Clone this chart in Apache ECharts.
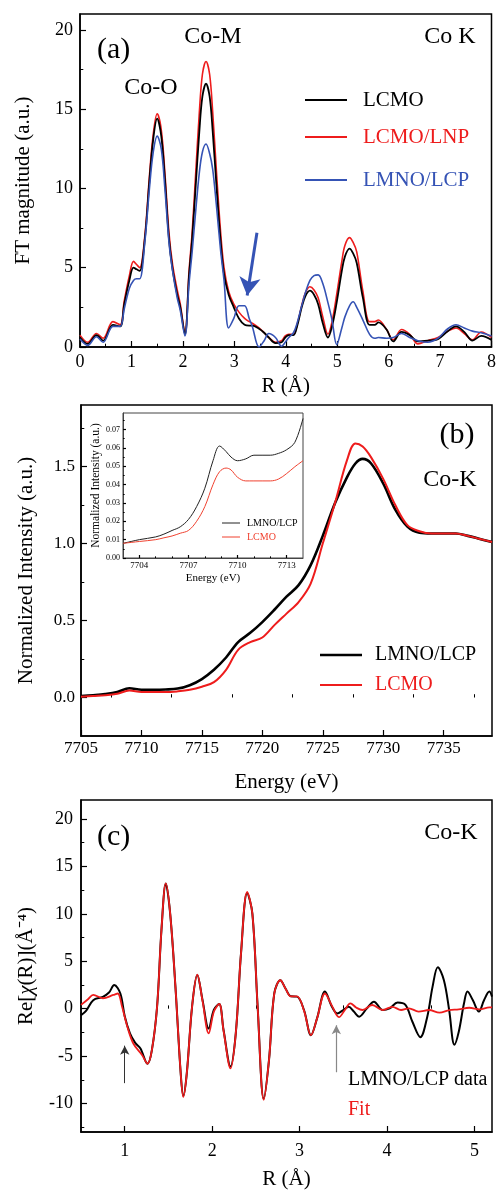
<!DOCTYPE html>
<html>
<head>
<meta charset="utf-8">
<script src="https://cdn.jsdelivr.net/npm/echarts@6/dist/echarts.min.js"></script>
<style>
  html, body { margin: 0; padding: 0; background: #fff; }
  #chart { width: 499px; height: 1191px; }
</style>
</head>
<body>
<div id="chart"></div>
<script>
// ---- (a) FT magnitude, Co K edge ----
var ftR = [0, 0.15, 0.32, 0.45, 0.64, 0.78, 0.86, 0.96, 1.04, 1.1,
  1.16, 1.26, 1.35, 1.42, 1.5, 1.58, 1.65, 1.73, 1.8, 1.89,
  1.95, 2.04, 2.12, 2.18, 2.25, 2.32, 2.38, 2.45, 2.52, 2.58,
  2.65, 2.73, 2.8, 2.89, 2.99, 3.09, 3.2, 3.29, 3.35, 3.48,
  3.58, 3.67, 3.8, 3.92, 3.99, 4.06, 4.15, 4.22, 4.31, 4.38,
  4.47, 4.55, 4.63, 4.72, 4.82, 4.9, 4.99, 5.09, 5.15, 5.24,
  5.31, 5.38, 5.5, 5.63, 5.73, 5.8, 5.96, 6.09, 6.25, 6.41,
  6.57, 6.76, 6.96, 7.15, 7.31, 7.47, 7.63, 7.8, 8.0];
var ftLCMO = [0.6, 0.2, 0.75, 0.4, 1.4, 1.3, 2.7, 4.2, 5.0, 4.9,
  4.8, 6.8, 10.5, 13.0, 14.4, 13.3, 10.6, 6.8, 4.9, 3.3,
  2.5, 0.8, 4.5, 6.8, 10.2, 13.6, 15.8, 16.6, 15.8, 13.6,
  10.3, 6.8, 4.6, 3.3, 2.5, 1.8, 1.4, 1.35, 1.35, 1.15,
  0.9, 0.6, 0.25, 0.3, 0.6, 0.75, 0.75, 1.3, 2.5, 3.2,
  3.55, 3.3, 2.7, 1.5, 0.6, 1.3, 2.8, 4.8, 5.7, 6.2,
  5.9, 5.3, 3.1, 1.4, 1.4, 1.55, 1.1, 0.35, 0.95, 0.75,
  0.35, 0.4, 0.5, 1.0, 1.3, 0.95, 0.4, 0.7, 0.45];
var ftLCMOLNP = [0.75, 0.3, 0.85, 0.55, 1.6, 1.4, 2.9, 4.5, 5.4, 5.2,
  5.0, 7.0, 10.8, 13.3, 14.7, 13.7, 11.0, 7.2, 5.2, 3.6,
  2.7, 0.85, 4.8, 7.2, 11.0, 14.8, 17.2, 18.0, 17.2, 14.8,
  11.2, 7.4, 5.0, 3.5, 2.7, 2.2, 1.8, 1.6, 1.5, 1.2,
  0.9, 0.6, 0.3, 0.4, 0.7, 0.8, 0.8, 1.4, 2.6, 3.4,
  3.8, 3.6, 3.1, 1.9, 0.8, 1.6, 3.3, 5.4, 6.4, 6.9,
  6.6, 6.0, 3.5, 1.6, 1.6, 1.7, 1.1, 0.45, 1.1, 0.8,
  0.2, 0.4, 0.6, 1.0, 1.2, 0.85, 0.45, 0.95, 0.6];
var ftLMNO = [0.5, 0.1, 0.65, 0.3, 1.3, 1.3, 2.4, 3.7, 4.2, 4.3,
  4.3, 6.6, 10.0, 12.2, 13.3, 12.5, 10.0, 6.6, 4.8, 3.1,
  2.3, 0.7, 4.0, 6.0, 8.6, 11.0, 12.3, 12.8, 12.2, 11.2,
  9.0, 6.2, 4.2, 1.2, 1.8, 2.6, 2.6, 1.8, 1.3, 0.0,
  0.4, 0.85, 0.6, 0.05, 0.3, 0.6, 0.9, 1.5, 2.6, 3.4,
  4.2, 4.5, 4.55, 4.0, 2.8, 1.7, 0.15, 1.2, 1.9, 2.6,
  2.85, 2.5, 1.7, 0.8, 0.55, 0.6, 0.55, 0.6, 0.85, 0.6,
  0.4, 0.3, 0.55, 1.15, 1.4, 1.2, 1.0, 0.9, 0.7];
var ftXTicks = [0, 1, 2, 3, 4, 5, 6, 7, 8];
var ftXMinor = [0.5, 1.5, 2.5, 3.5, 4.5, 5.5, 6.5, 7.5];
var ftYTicks = [0, 5, 10, 15, 20];
var ftYMinor = [2.5, 7.5, 12.5, 17.5];
var ftArrow = [[3.44, 7.2], [3.25, 3.25]];

// ---- (b) XANES ----
var xeE = [7705, 7706, 7707, 7708, 7709, 7710, 7711, 7712, 7713, 7714,
  7715, 7716, 7717, 7718, 7719, 7720, 7721, 7722, 7723, 7724,
  7725, 7726, 7727, 7727.7, 7728.3, 7729, 7730, 7731, 7732, 7733,
  7734, 7735, 7736, 7737, 7738, 7739];
var xeLMNO = [0.01, 0.015, 0.022, 0.035, 0.06, 0.05, 0.05, 0.052, 0.058, 0.08,
  0.12, 0.18, 0.26, 0.36, 0.42, 0.49, 0.57, 0.655, 0.73, 0.86,
  1.05, 1.26, 1.43, 1.52, 1.55, 1.52, 1.39, 1.22, 1.11, 1.07,
  1.065, 1.065, 1.065, 1.05, 1.03, 1.01];
var xeLCMO = [0.005, 0.01, 0.015, 0.025, 0.045, 0.035, 0.035, 0.035, 0.04, 0.05,
  0.07, 0.10, 0.18, 0.31, 0.36, 0.39, 0.47, 0.545, 0.62, 0.74,
  1.0, 1.26, 1.54, 1.65, 1.63, 1.56, 1.42, 1.25, 1.12, 1.08,
  1.065, 1.065, 1.065, 1.05, 1.03, 1.01];
var xeXTicks = [7705, 7710, 7715, 7720, 7725, 7730, 7735];
var xeXMinor = [7707.5, 7712.5, 7717.5, 7722.5, 7727.5, 7732.5, 7737.5];
var xeYTicks = [0, 0.5, 1.0, 1.5];
var xeYMinor = [0.25, 0.75, 1.25, 1.75];

// ---- (b) inset: pre-edge ----
var inE = [7703, 7703.5, 7704, 7705, 7705.5, 7706, 7706.5, 7707, 7707.5, 7708,
  7708.5, 7708.9, 7709.3, 7709.6, 7710, 7710.5, 7711, 7712, 7712.5, 7713,
  7713.5, 7714];
var inLMNO = [0.008, 0.009, 0.010, 0.0115, 0.013, 0.015, 0.017, 0.021, 0.028, 0.038,
  0.053, 0.061, 0.058, 0.055, 0.053, 0.054, 0.056, 0.056, 0.057, 0.059,
  0.063, 0.076];
var inLCMO = [0.008, 0.0085, 0.009, 0.010, 0.011, 0.012, 0.0135, 0.015, 0.02, 0.028,
  0.04, 0.047, 0.049, 0.048, 0.044, 0.042, 0.042, 0.042, 0.043, 0.046,
  0.0497, 0.053];
var inXTicks = [7704, 7707, 7710, 7713];
var inXMinor = [7705, 7706, 7708, 7709, 7711, 7712];
var inYTicks = [0, 0.01, 0.02, 0.03, 0.04, 0.05, 0.06, 0.07];
var inYMinor = [0.005, 0.015, 0.025, 0.035, 0.045, 0.055, 0.065, 0.075];

// ---- (c) Re[chi(R)] data and fit ----
var reRData = [0.5, 0.56, 0.64, 0.75, 0.82, 0.88, 0.95, 1.0, 1.06, 1.12,
  1.18, 1.26, 1.31, 1.37, 1.42, 1.47, 1.52, 1.58, 1.64, 1.67,
  1.71, 1.77, 1.83, 1.89, 1.96, 2.02, 2.08, 2.13, 2.21, 2.27,
  2.33, 2.4, 2.46, 2.52, 2.59, 2.65, 2.71, 2.78, 2.84, 2.9,
  2.97, 3.05, 3.13, 3.2, 3.29, 3.37, 3.43, 3.5, 3.56, 3.62,
  3.68, 3.77, 3.85, 3.95, 4.03, 4.12, 4.21, 4.29, 4.38, 4.46,
  4.52, 4.58, 4.65, 4.71, 4.77, 4.82, 4.88, 4.92, 4.98, 5.05,
  5.11, 5.17, 5.2];
var reData = [-0.7, -0.2, 0.9, 1.25, 1.7, 2.5, 1.6, -0.8, -2.6, -3.6,
  -4.2, -5.8, -4.4, 0.2, 8.3, 13.2, 10.0, 2.3, -6.8, -9.2,
  -6.8, 0.2, 3.56, 0.9, -2.1, -0.1, 0.5, -2.25, -6.1, -2.6,
  5.85, 12.2, 10.0, 0.2, -9.5, -5.4, 1.6, 3.0, 2.1, 1.3,
  1.27, -0.14, -2.8, -1.0, 1.8, 0.2, -0.5, -0.14, 0.2, -0.3,
  -0.84, 0.04, 0.74, -0.14, 0.04, 0.64, 0.39, -1.38, -3.0, -0.84,
  2.3, 4.37, 3.0, -0.14, -3.8, -2.43, 0.57, 1.8, 0.92, -0.3,
  0.92, 1.8, 1.27];
var reRFit = [0.5, 0.58, 0.64, 0.75, 0.87, 0.92, 0.97, 1.03, 1.1, 1.2,
  1.26, 1.31, 1.37, 1.42, 1.47, 1.52, 1.58, 1.64, 1.67, 1.71,
  1.77, 1.83, 1.89, 1.96, 2.02, 2.08, 2.13, 2.21, 2.27, 2.33,
  2.4, 2.46, 2.52, 2.59, 2.65, 2.71, 2.78, 2.84, 2.9, 2.97,
  3.05, 3.13, 3.2, 3.29, 3.37, 3.45, 3.52, 3.58, 3.65, 3.72,
  3.83, 3.95, 4.06, 4.16, 4.25, 4.36, 4.48, 4.6, 4.71, 4.82,
  4.94, 5.06, 5.17, 5.2];
var reFit = [0.4, 1.0, 1.45, 1.1, 1.45, 1.6, 0.2, -1.9, -3.7, -4.9,
  -5.8, -4.4, 0.2, 8.3, 13.2, 10.0, 2.3, -6.8, -9.3, -6.8,
  0.2, 3.6, 0.8, -2.6, -0.3, 0.5, -2.3, -6.3, -2.6, 5.85,
  12.3, 10.0, 0.2, -9.6, -5.4, 1.6, 3.0, 2.1, 1.3, 1.3,
  -0.2, -2.8, -1.0, 1.6, 0.3, -0.9, -0.1, 0.57, 0.1, -0.14,
  0.39, -0.14, 0.2, -0.14, 0.04, -0.3, -0.14, -0.42, -0.14, -0.07,
  0.1, -0.07, 0.14, 0.14];
var reXTicks = [1, 2, 3, 4, 5];
var reXMinor = [1.5, 2.5, 3.5, 4.5];
var reYTicks = [-10, -5, 0, 5, 10, 15, 20];
var reYMinor = [-12.5, -7.5, -2.5, 2.5, 7.5, 12.5, 17.5];
var reArrow1 = [[1.0, -7.85], [1.0, -3.9]];
var reArrow2 = [[3.42, -6.7], [3.42, -1.75]];

var FONT = '"Liberation Serif", "Times New Roman", serif';
var RED = '#ee1c1c';
var BLUE = '#3553b5';

function pairs(xs, ys) {
    return xs.map(function (x, i) { return [x, ys[i]]; });
}

// main axis (line, major ticks, labels, name) + a bare axis carrying the minor ticks
function axisPair(dim, grid, min, max, majors, minors, o) {
    var pos = dim === 'x' ? 'bottom' : 'left';
    var main = {
        type: 'value', gridIndex: grid, min: min, max: max, position: pos,
        axisLine: { show: true, onZero: false, lineStyle: { color: o.lineColor || '#000', width: o.lineWidth || 1.5 } },
        axisTick: { show: true, inside: true, length: o.tick, customValues: majors, lineStyle: { color: '#000', width: 1.2 } },
        axisLabel: { customValues: majors, fontSize: o.fs, margin: o.margin, color: '#000', fontFamily: FONT, formatter: o.fmt },
        splitLine: { show: false },
        name: o.name, nameLocation: 'middle', nameGap: o.gap,
        nameTextStyle: { fontSize: o.nameFs, color: '#000', fontFamily: FONT, rich: o.rich }
    };
    var minor = {
        type: 'value', gridIndex: grid, min: min, max: max, position: pos,
        axisLine: { show: false },
        axisTick: { show: true, inside: true, length: o.tick * 0.55, customValues: minors, lineStyle: { color: '#000', width: 1 } },
        axisLabel: { show: false },
        splitLine: { show: false }
    };
    return [main, minor];
}

function plain(v) { return String(v); }

var xAxes = [].concat(
    axisPair('x', 0, 0, 8, ftXTicks, ftXMinor, { tick: 6, fs: 18, margin: 6, fmt: plain, name: 'R (Å)', gap: 29, nameFs: 21 }),
    axisPair('x', 1, 7705, 7739, xeXTicks, xeXMinor, { tick: 6, fs: 17, margin: 4, fmt: plain, name: 'Energy (eV)', gap: 36, nameFs: 21 }),
    axisPair('x', 2, 7703, 7714, inXTicks, inXMinor, { tick: 3, fs: 9, margin: 3, fmt: plain, name: 'Energy (eV)', gap: 15, nameFs: 11, lineWidth: 1, lineColor: '#444' }),
    axisPair('x', 3, 0.5, 5.2, reXTicks, reXMinor, { tick: 6, fs: 18, margin: 10, fmt: plain, name: 'R (Å)', gap: 37, nameFs: 21 })
);
var yAxes = [].concat(
    axisPair('y', 0, 0, 21, ftYTicks, ftYMinor, { tick: 6, fs: 18, margin: 7, fmt: plain, name: 'FT magnitude (a.u.)', gap: 46, nameFs: 21 }),
    axisPair('y', 1, -0.25, 1.9, xeYTicks, xeYMinor, { tick: 6, fs: 17, margin: 6, fmt: function (v) { return v.toFixed(1); }, name: 'Normalized Intensity (a.u.)', gap: 44, nameFs: 21 }),
    axisPair('y', 2, 0, 0.079, inYTicks, inYMinor, { tick: 3, fs: 8, margin: 3, fmt: function (v) { return v.toFixed(2); }, name: 'Normalized Intensity (a.u.)', gap: 19, nameFs: 11.5, lineWidth: 1, lineColor: '#444' }),
    axisPair('y', 3, -13, 22, reYTicks, reYMinor, { tick: 6, fs: 18, margin: 8, fmt: plain,
        name: '{a|Re[}{i|χ}{a|(R)](Å⁻⁴)}', gap: 44, nameFs: 21,
        rich: { a: { fontSize: 21, fontFamily: FONT, color: '#000' }, i: { fontSize: 21, fontFamily: FONT, fontStyle: 'italic', color: '#000' } } })
);

function line(name, xi, xs, ys, color, width, z, extra) {
    var s = {
        name: name, type: 'line', xAxisIndex: xi * 2, yAxisIndex: xi * 2,
        data: pairs(xs, ys), showSymbol: false, symbol: 'none', smooth: 0.35,
        lineStyle: { color: color, width: width }, itemStyle: { color: color }, z: z, clip: true
    };
    if (extra) s.markLine = extra;
    return s;
}

function arrow(p, color, width, size) {
    return {
        silent: true, animation: false, label: { show: false },
        symbol: ['none', 'arrow'], symbolSize: size,
        lineStyle: { color: color, width: width, type: 'solid' },
        data: [[{ coord: p[0] }, { coord: p[1] }]]
    };
}

function txt(t, x, y, size, color, align) {
    return { type: 'text', x: x, y: y, z: 10,
        style: { text: t, font: size + 'px ' + FONT, fill: color || '#000', align: align || 'left', verticalAlign: 'middle' } };
}
function seg(x1, x2, y, color, w) {
    return { type: 'line', z: 10, shape: { x1: x1, y1: y, x2: x2, y2: y }, style: { stroke: color, lineWidth: w } };
}

var chart = echarts.init(document.getElementById('chart'));
chart.setOption({
    animation: false,
    backgroundColor: '#fff',
    textStyle: { fontFamily: FONT },
    grid: [
        { left: 80, top: 14, width: 414, height: 333, show: true, borderColor: '#000', borderWidth: 1.5, backgroundColor: 'transparent' },
        { left: 81, top: 405, width: 411, height: 331, show: true, borderColor: '#000', borderWidth: 1.5, backgroundColor: 'transparent' },
        { left: 123, top: 413, width: 180, height: 145, show: true, borderColor: '#444', borderWidth: 1, backgroundColor: '#fff' },
        { left: 81, top: 800, width: 411, height: 332, show: true, borderColor: '#000', borderWidth: 1.5, backgroundColor: 'transparent' }
    ],
    xAxis: xAxes,
    yAxis: yAxes,
    series: [
        line('LCMO/LNP', 0, ftR, ftLCMOLNP, RED, 1.6, 2),
        line('LCMO', 0, ftR, ftLCMO, '#000', 1.8, 3),
        line('LMNO/LCP', 0, ftR, ftLMNO, BLUE, 1.6, 4, arrow(ftArrow, BLUE, 3, [16, 18])),
        line('LMNO/LCP', 1, xeE, xeLMNO, '#000', 2.6, 3),
        line('LCMO', 1, xeE, xeLCMO, RED, 2, 4),
        line('LMNO/LCP', 2, inE, inLMNO, '#222', 1, 5),
        line('LCMO', 2, inE, inLCMO, '#f0412f', 1, 5),
        line('LMNO/LCP data', 3, reRData, reData, '#000', 2, 3, arrow(reArrow1, '#333', 1, [7, 9])),
        line('Fit', 3, reRFit, reFit, RED, 1.8, 4, arrow(reArrow2, '#888', 1.2, [7, 9]))
    ],
    graphic: [
        txt('(a)', 97, 50, 30),
        txt('Co-M', 213, 37, 24, '#000', 'center'),
        txt('Co K', 450, 37, 24, '#000', 'center'),
        txt('Co-O', 151, 88, 24, '#000', 'center'),
        seg(305, 347, 100, '#000', 2), txt('LCMO', 363, 100, 21),
        seg(305, 347, 137, RED, 2), txt('LCMO/LNP', 363, 137, 21, RED),
        seg(305, 347, 180, BLUE, 2), txt('LMNO/LCP', 363, 180, 21, BLUE),

        txt('(b)', 457, 435, 30, '#000', 'center'),
        txt('Co-K', 450, 480, 24, '#000', 'center'),
        seg(320, 362, 655, '#000', 2.6), txt('LMNO/LCP', 375, 655, 20),
        seg(320, 362, 685, RED, 2), txt('LCMO', 375, 685, 20, RED),
        seg(222, 240, 523, '#222', 1), txt('LMNO/LCP', 247, 523, 10),
        seg(222, 240, 537, '#f0412f', 1), txt('LCMO', 247, 537, 10, '#f0412f'),

        txt('(c)', 97, 837, 30),
        txt('Co-K', 451, 833, 24, '#000', 'center'),
        txt('LMNO/LCP data', 348, 1080, 20),
        txt('Fit', 348, 1110, 20, RED)
    ]
});
</script>
</body>
</html>
